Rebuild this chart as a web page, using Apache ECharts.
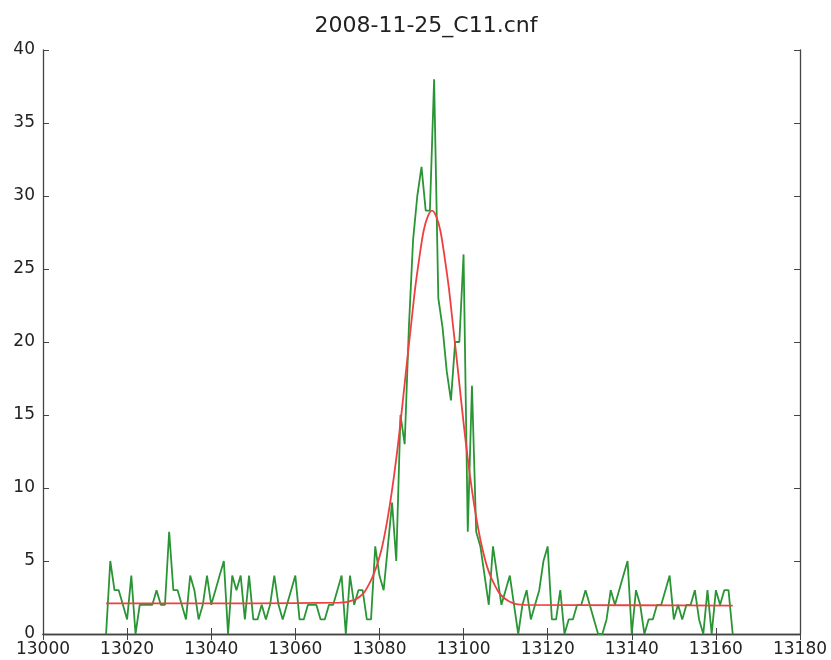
<!DOCTYPE html>
<html><head><meta charset="utf-8">
<script src="https://cdn.jsdelivr.net/npm/echarts@6/dist/echarts.min.js"></script>
<style>html,body{margin:0;padding:0;background:#fff}#c{width:831px;height:660px}</style>
</head><body><div id="c"></div>
<script>
const chartTitle = '2008-11-25_C11.cnf';
const channels = [
13015,13016,13017,13018,13019,13020,13021,13022,13023,13024,
13025,13026,13027,13028,13029,13030,13031,13032,13033,13034,
13035,13036,13037,13038,13039,13040,13041,13042,13043,13044,
13045,13046,13047,13048,13049,13050,13051,13052,13053,13054,
13055,13056,13057,13058,13059,13060,13061,13062,13063,13064,
13065,13066,13067,13068,13069,13070,13071,13072,13073,13074,
13075,13076,13077,13078,13079,13080,13081,13082,13083,13084,
13085,13086,13087,13088,13089,13090,13091,13092,13093,13094,
13095,13096,13097,13098,13099,13100,13101,13102,13103,13104,
13105,13106,13107,13108,13109,13110,13111,13112,13113,13114,
13115,13116,13117,13118,13119,13120,13121,13122,13123,13124,
13125,13126,13127,13128,13129,13130,13131,13132,13133,13134,
13135,13136,13137,13138,13139,13140,13141,13142,13143,13144,
13145,13146,13147,13148,13149,13150,13151,13152,13153,13154,
13155,13156,13157,13158,13159,13160,13161,13162,13163,13164];
const counts = [
0,5,3,3,2,1,4,0,2,2,
2,2,3,2,2,7,3,3,2,1,
4,3,1,2,4,2,3,4,5,0,
4,3,4,1,4,1,1,2,1,2,
4,2,1,2,3,4,1,1,2,2,
2,1,1,2,2,3,4,0,4,2,
3,3,1,1,6,4,3,6,9,5,
15,13,21,27,30,32,29,29,38,23,
21,18,16,20,20,26,7,17,7,6,
4,2,6,4,2,3,4,2,0,2,
3,1,2,3,5,6,1,1,3,0,
1,1,2,2,3,2,1,0,0,1,
3,2,3,4,5,0,3,2,0,1,
1,2,2,3,4,1,2,1,2,2,
3,1,0,3,0,3,2,3,3,0];
const fitX = [13015,13050,13070.5,13072.5,13073.5,13074.5,13075.5,13076.5,13077.5,13078.5,13079.5,
13080.5,13081.5,13082.5,13083.5,13084.5,13085.5,13086.5,13087.5,13088.5,13089.5,
13090.5,13091.5,13092.5,13093.5,13094.5,13095.5,13096.5,13097.5,13098.5,13099.5,
13100.5,13101.5,13102.5,13103.5,13104.5,13105.5,13106.5,13107.5,13108.5,13109.5,
13110.5,13111.5,13112.5,13114.5,13140,13164];
const fitY = [2.1,2.1,2.15,2.2,2.3,2.4,2.6,2.9,3.4,4.0,4.8,
5.8,7.2,8.9,10.9,13.2,15.8,18.5,21.1,23.7,25.8,
27.6,28.6,29.0,28.6,27.6,25.8,23.7,21.1,18.5,15.8,
13.2,10.9,8.9,7.2,5.8,4.7,3.9,3.3,2.8,2.5,
2.3,2.15,2.05,2.0,1.97,1.95];
const xMin = 13000, xMax = 13180, xStep = 20;
const yMin = 0, yMax = 40, yStep = 5;

const FONT = 'DejaVu Sans';
const frame = {show:true, lineStyle:{color:'#444', width:1.3}};
const tick = {show:true, inside:true, length:6, lineStyle:{color:'#444', width:1}};
const lbl = {fontFamily:FONT, fontSize:17, color:'#222', formatter:v => String(v)};

const chart = echarts.init(document.getElementById('c'), null, {renderer:'canvas'});
chart.setOption({
  animation:false,
  backgroundColor:'#fff',
  title:{text:chartTitle, left:421, top:10, textAlign:'center',
    textStyle:{fontFamily:FONT, fontSize:22, fontWeight:'normal', color:'#222'}},
  grid:{left:43, right:31, top:50, bottom:26, containLabel:false},
  xAxis:[
    {type:'value', position:'bottom', min:xMin, max:xMax, interval:xStep,
     axisLine:frame, axisTick:tick, splitLine:{show:false},
     axisLabel:Object.assign({margin:7}, lbl)},
    {type:'value', position:'top', min:xMin, max:xMax, interval:xStep,
     axisLine:frame, axisTick:tick, splitLine:{show:false}, axisLabel:{show:false}}
  ],
  yAxis:[
    {type:'value', position:'left', min:yMin, max:yMax, interval:yStep,
     axisLine:frame, axisTick:tick, splitLine:{show:false},
     axisLabel:Object.assign({margin:8}, lbl)},
    {type:'value', position:'right', min:yMin, max:yMax, interval:yStep,
     axisLine:frame, axisTick:tick, splitLine:{show:false}, axisLabel:{show:false}}
  ],
  series:[
    {type:'line', name:'data', xAxisIndex:0, yAxisIndex:0,
     data:channels.map((c,i)=>[c, counts[i]]),
     showSymbol:false, symbol:'none',
     lineStyle:{color:'#2a9535', width:1.8}, z:2},
    {type:'line', name:'fit', xAxisIndex:0, yAxisIndex:0,
     data:fitX.map((x,i)=>[x, fitY[i]]),
     showSymbol:false, symbol:'none', smooth:0.3,
     lineStyle:{color:'#ee4040', width:1.8}, z:3}
  ]
});
</script>
</body></html>
